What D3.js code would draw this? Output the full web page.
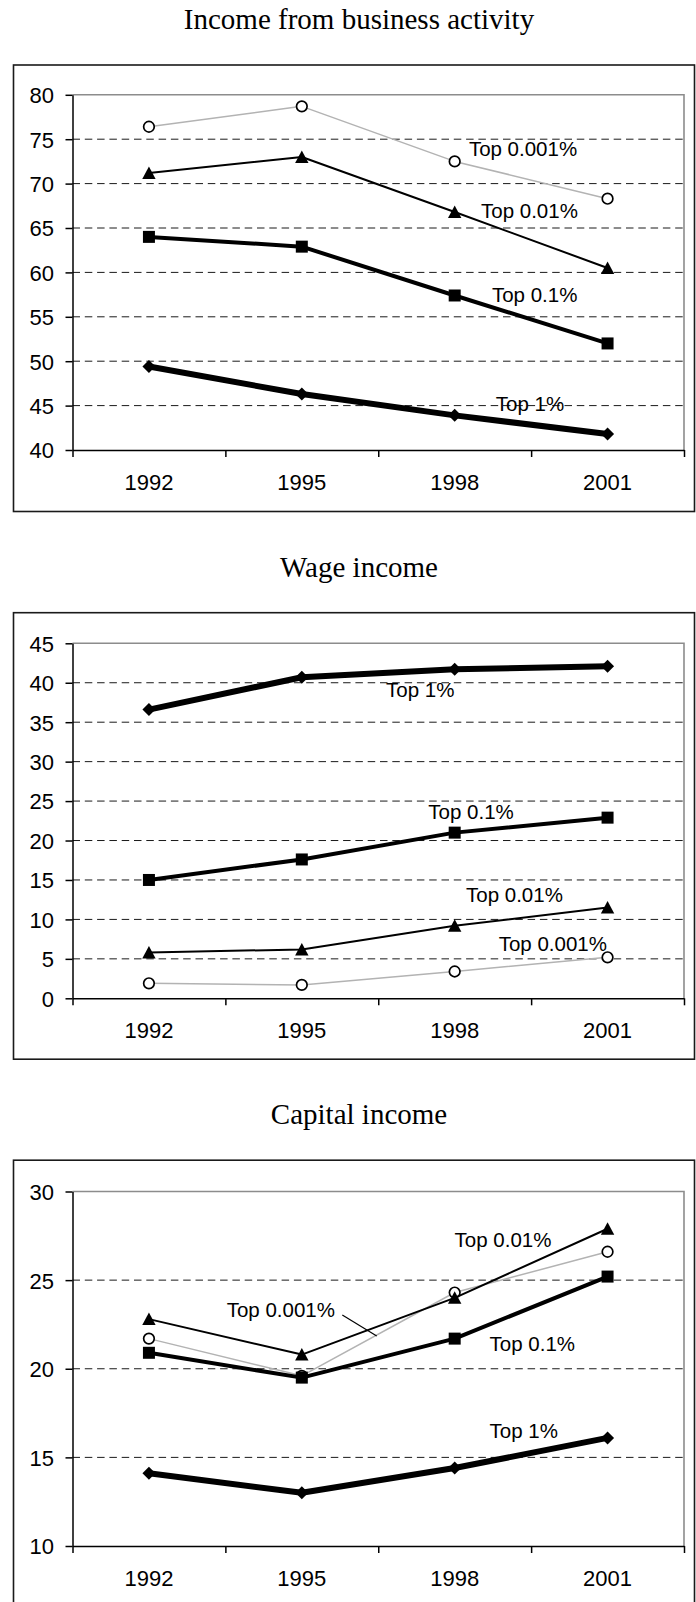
<!DOCTYPE html>
<html>
<head>
<meta charset="utf-8">
<script src="https://cdn.jsdelivr.net/npm/d3@7"></script>
<style>
  body { margin: 0; background: #fff; }
  svg { display: block; }
  .title { font-family: "Liberation Serif", "Times New Roman", serif; font-size: 29px; fill: #000; }
  .axis text { font-family: "Liberation Sans", Arial, sans-serif; font-size: 22px; fill: #000; }
  .series-label { font-family: "Liberation Sans", Arial, sans-serif; font-size: 20.5px; fill: #000; }
</style>
</head>
<body>
<div id="chart"></div>
<script>
    'use strict';

    var years = ['1992', '1995', '1998', '2001'];
    var seriesNames = ['Top 0.001%', 'Top 0.01%', 'Top 0.1%', 'Top 1%'];

    // one row per series, same order as seriesNames
    var businessValues = [
        [76.4, 78.7, 72.5, 68.3],
        [71.2, 73.0, 66.8, 60.5],
        [64.0, 62.9, 57.4, 52.0],
        [49.4, 46.3, 43.9, 41.8]
    ];
    var wageValues = [
        [1.9, 1.7, 3.4, 5.2],
        [5.8, 6.2, 9.2, 11.5],
        [15.0, 17.6, 21.0, 22.9],
        [36.6, 40.7, 41.7, 42.1]
    ];
    var capitalValues = [
        [21.7, 19.6, 24.3, 26.6],
        [22.8, 20.8, 24.0, 27.9],
        [20.9, 19.5, 21.7, 25.2],
        [14.1, 13.0, 14.4, 16.1]
    ];

    var businessTicks = [40, 45, 50, 55, 60, 65, 70, 75, 80];
    var wageTicks = [0, 5, 10, 15, 20, 25, 30, 35, 40, 45];
    var capitalTicks = [10, 15, 20, 25, 30];

    // label anchors in data units: [category index, value]
    var businessLabels = [[2.447, 73.9], [2.489, 67.0], [2.523, 57.5], [2.493, 45.2]];
    var wageLabels = [[2.642, 6.97], [2.391, 13.1], [2.107, 23.65], [1.775, 39.1]];
    var capitalLabels = [[0.863, 23.35], [2.316, 27.26], [2.508, 21.4], [2.452, 16.5]];
    var capitalLeader = [[1.265, 23.03], [1.49, 21.85]];

    var width = 696, height = 1602;
    var plotLeft = 72.5, plotRight = 684;

    var styles = [
        { stroke: '#b3b3b3', width: 1.5, marker: 'circle' },
        { stroke: '#000', width: 2, marker: 'triangle' },
        { stroke: '#000', width: 4, marker: 'square' },
        { stroke: '#000', width: 6, marker: 'diamond' }
    ];

    var panels = [
        { title: 'Income from business activity', values: businessValues, ticks: businessTicks,
          labels: businessLabels, leader: null, frameTop: 65, plotTop: 94.8, plotBottom: 450 },
        { title: 'Wage income', values: wageValues, ticks: wageTicks,
          labels: wageLabels, leader: null, frameTop: 612.7, plotTop: 643.3, plotBottom: 998.3 },
        { title: 'Capital income', values: capitalValues, ticks: capitalTicks,
          labels: capitalLabels, leader: capitalLeader, frameTop: 1160.2, plotTop: 1191.5, plotBottom: 1546 }
    ];

    var markerPath = function(kind) {
        if (kind === 'triangle') {
            return 'M0,-6.5L6.7,6L-6.7,6Z';
        }
        if (kind === 'square') {
            return 'M-6,-6H6V6H-6Z';
        }
        if (kind === 'diamond') {
            return 'M0,-6.5L6.5,0L0,6.5L-6.5,0Z';
        }
        return d3.symbol().type(d3.symbolCircle).size(Math.PI * 5.3 * 5.3)();
    };

    var svg = d3.select('#chart')
        .append('svg')
        .attr('width', width)
        .attr('height', height)
        .attr('xmlns', 'http://www.w3.org/2000/svg');

    var xBand = d3.scaleBand().domain(years).range([plotLeft, plotRight]);
    var xEdge = d3.scaleLinear().domain([0, years.length]).range([plotLeft, plotRight]);
    var xIndex = d3.scaleLinear().domain([-0.5, years.length - 0.5]).range([plotLeft, plotRight]);

    panels.forEach(function(p) {
        var g = svg.append('g').attr('class', 'panel');
        var y = d3.scaleLinear()
            .domain([p.ticks[0], p.ticks[p.ticks.length - 1]])
            .range([p.plotBottom, p.plotTop]);

        g.append('text')
            .attr('class', 'title')
            .attr('x', 359)
            .attr('y', p.frameTop - 35.8)
            .attr('text-anchor', 'middle')
            .text(p.title);

        // outer chart frame
        g.append('rect')
            .attr('x', 13.5)
            .attr('y', p.frameTop)
            .attr('width', 681)
            .attr('height', 446.5)
            .attr('fill', 'none')
            .attr('stroke', '#1a1a1a')
            .attr('stroke-width', 1.6);

        // gray plot area border (top / right)
        g.append('path')
            .attr('d', 'M' + plotLeft + ',' + p.plotTop + 'H' + plotRight + 'V' + p.plotBottom)
            .attr('fill', 'none')
            .attr('stroke', '#8c8c8c')
            .attr('stroke-width', 1.6);

        g.append('g')
            .selectAll('line')
            .data(p.ticks.slice(1, -1)).enter()
            .append('line')
            .attr('x1', plotLeft)
            .attr('x2', plotRight)
            .attr('y1', function(d) { return y(d); })
            .attr('y2', function(d) { return y(d); })
            .attr('stroke', '#1a1a1a')
            .attr('stroke-width', 1)
            .attr('stroke-dasharray', '7.5,4.8');

        var yAxis = g.append('g')
            .attr('class', 'axis')
            .attr('transform', 'translate(' + plotLeft + ',0)')
            .call(d3.axisLeft(y).tickValues(p.ticks).tickSize(7).tickSizeOuter(0).tickPadding(11.5));
        yAxis.selectAll('text').attr('dy', '0.36em');

        g.append('g')
            .attr('class', 'axis')
            .attr('transform', 'translate(0,' + p.plotBottom + ')')
            .call(d3.axisBottom(xEdge).tickValues(d3.range(years.length + 1)).tickSize(7).tickSizeOuter(0).tickFormat(''));

        var xLabels = g.append('g')
            .attr('class', 'axis')
            .attr('transform', 'translate(0,' + (p.plotBottom + 32) + ')')
            .call(d3.axisBottom(xBand).tickSize(0).tickPadding(0));
        xLabels.select('.domain').remove();
        xLabels.selectAll('text').attr('dy', '0.36em');

        g.selectAll('.axis path, .axis line')
            .attr('stroke', '#000')
            .attr('stroke-width', 1.5);

        var line = d3.line()
            .x(function(d, i) { return xBand(years[i]) + xBand.bandwidth() / 2; })
            .y(function(d) { return y(d); });

        p.values.forEach(function(vals, s) {
            var st = styles[s];
            var sg = g.append('g').attr('class', 'series');
            sg.append('path')
                .attr('d', line(vals))
                .attr('fill', 'none')
                .attr('stroke', st.stroke)
                .attr('stroke-width', st.width)
                .attr('stroke-linejoin', 'round');

            sg.selectAll('path.marker')
                .data(vals).enter()
                .append('path')
                .attr('class', 'marker')
                .attr('transform', function(d, i) {
                    return 'translate(' + (xBand(years[i]) + xBand.bandwidth() / 2) + ',' + y(d) + ')';
                })
                .attr('d', markerPath(st.marker))
                .attr('fill', st.marker === 'circle' ? '#fff' : '#000')
                .attr('stroke', st.marker === 'circle' ? '#000' : 'none')
                .attr('stroke-width', 1.7);
        });

        if (p.leader) {
            g.append('line')
                .attr('x1', xIndex(p.leader[0][0]))
                .attr('y1', y(p.leader[0][1]))
                .attr('x2', xIndex(p.leader[1][0]))
                .attr('y2', y(p.leader[1][1]))
                .attr('stroke', '#000')
                .attr('stroke-width', 1.2);
        }

        g.append('g')
            .selectAll('text')
            .data(p.labels).enter()
            .append('text')
            .attr('class', 'series-label')
            .attr('x', function(d) { return xIndex(d[0]); })
            .attr('y', function(d) { return y(d[1]); })
            .attr('dy', '0.36em')
            .attr('text-anchor', 'middle')
            .text(function(d, i) { return seriesNames[i]; });
    });
</script>
</body>
</html>
